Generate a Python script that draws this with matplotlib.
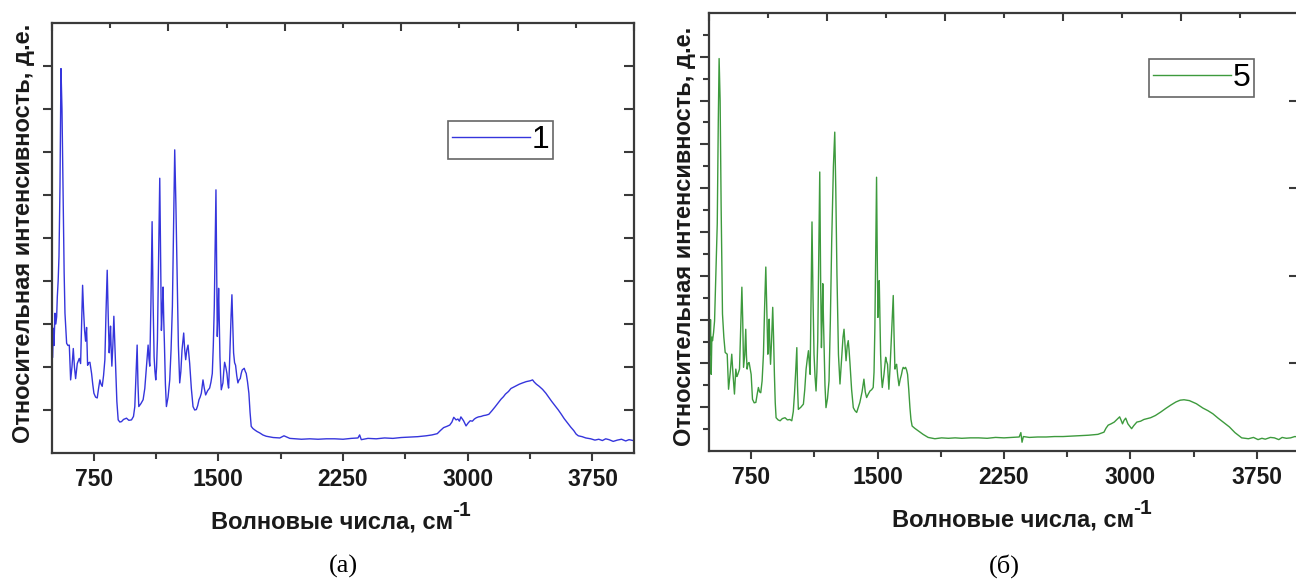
import matplotlib
matplotlib.use("Agg")
import matplotlib.pyplot as plt
from matplotlib.ticker import NullFormatter

plt.rcParams["font.family"] = ["Liberation Sans", "DejaVu Sans"]

# spectrum 1 (panel а), relative units
wn_a = [504, 508, 512, 518, 523, 528, 532, 537, 542, 548, 554, 560, 568, 573, 578, 588, 596, 604, 612, 620,
        628, 635, 642, 652, 664, 672, 678, 684, 690, 696, 702, 708, 714, 721, 728, 738, 745, 752, 762, 772,
        780, 788, 795, 802, 810, 818, 825, 832, 838, 844, 848, 852, 856, 860, 866, 872, 878, 884, 890, 898,
        908, 918, 930, 948, 962, 978, 990, 998, 1005, 1012, 1017, 1022, 1035, 1048, 1058, 1068, 1073, 1078,
        1083, 1088, 1095, 1102, 1108, 1114, 1119, 1124, 1129, 1134, 1141, 1148, 1153, 1158, 1163, 1168,
        1172, 1176, 1182, 1188, 1198, 1208, 1216, 1224, 1231, 1238, 1245, 1252, 1260, 1268, 1275, 1282,
        1287, 1292, 1298, 1304, 1311, 1318, 1323, 1328, 1338, 1348, 1358, 1368, 1376, 1384, 1391, 1398,
        1403, 1408, 1416, 1424, 1436, 1448, 1456, 1464, 1470, 1476, 1481, 1486, 1490, 1494, 1498, 1502,
        1506, 1510, 1514, 1518, 1523, 1528, 1533, 1538, 1545, 1552, 1558, 1562, 1567, 1572, 1577, 1582,
        1587, 1592, 1598, 1604, 1611, 1618, 1625, 1632, 1638, 1644, 1650, 1656, 1662, 1668, 1676, 1684,
        1691, 1698, 1708, 1718, 1733, 1748, 1768, 1788, 1830, 1870, 1895, 1930, 2000, 2050, 2100, 2150,
        2200, 2250, 2300, 2340, 2350, 2360, 2400, 2450, 2500, 2550, 2600, 2650, 2700, 2750, 2785, 2817,
        2835, 2855, 2875, 2892, 2905, 2916, 2930, 2941, 2950, 2959, 2975, 2990, 3003, 3015, 3028, 3040,
        3052, 3065, 3080, 3095, 3110, 3127, 3145, 3164, 3182, 3200, 3215, 3227, 3245, 3260, 3275, 3289,
        3310, 3330, 3352, 3376, 3390, 3400, 3413, 3430, 3450, 3470, 3488, 3505, 3525, 3545, 3563, 3580,
        3600, 3620, 3638, 3652, 3665, 3688, 3710, 3740, 3765, 3788, 3810, 3830, 3850, 3875, 3900, 3925,
        3950, 3970, 3995]
int_a = [0.223, 0.29, 0.25, 0.325, 0.30, 0.317, 0.364, 0.40, 0.457, 0.62, 0.894, 0.80, 0.573, 0.42, 0.325, 0.255, 0.25, 0.251, 0.170, 0.20,
         0.243, 0.20, 0.173, 0.208, 0.220, 0.208, 0.30, 0.390, 0.33, 0.285, 0.26, 0.292, 0.204, 0.21, 0.211, 0.185, 0.16, 0.139, 0.130, 0.128,
         0.15, 0.170, 0.16, 0.155, 0.18, 0.217, 0.33, 0.425, 0.32, 0.233, 0.26, 0.295, 0.24, 0.202, 0.25, 0.318, 0.25, 0.185, 0.12, 0.077,
         0.072, 0.073, 0.078, 0.081, 0.076, 0.077, 0.085, 0.108, 0.18, 0.251, 0.16, 0.108, 0.115, 0.124, 0.15, 0.202, 0.23, 0.251,
         0.22, 0.202, 0.35, 0.538, 0.35, 0.224, 0.19, 0.170, 0.20, 0.264, 0.45, 0.639, 0.45, 0.285, 0.33, 0.386,
         0.31, 0.255, 0.16, 0.108, 0.13, 0.170, 0.24, 0.341, 0.52, 0.705, 0.58, 0.419, 0.25, 0.163, 0.19, 0.240,
         0.26, 0.279, 0.24, 0.217, 0.24, 0.251, 0.23, 0.208, 0.15, 0.108, 0.100, 0.101, 0.11, 0.124, 0.13, 0.139,
         0.155, 0.170, 0.15, 0.135, 0.145, 0.151, 0.165, 0.185, 0.25, 0.341, 0.47, 0.612, 0.45, 0.271, 0.32, 0.383,
         0.30, 0.224, 0.18, 0.147, 0.155, 0.163, 0.19, 0.211, 0.20, 0.185, 0.16, 0.151, 0.20, 0.264, 0.32, 0.368,
         0.30, 0.233, 0.21, 0.204, 0.18, 0.163, 0.17, 0.173, 0.185, 0.193, 0.195, 0.197, 0.19, 0.185, 0.165, 0.139,
         0.095, 0.062, 0.057, 0.054, 0.050, 0.047, 0.042, 0.039, 0.036, 0.035, 0.040, 0.034, 0.032, 0.033, 0.032, 0.033,
         0.033, 0.032, 0.034, 0.035, 0.042, 0.031, 0.034, 0.033, 0.035, 0.034, 0.036, 0.037, 0.038, 0.040, 0.042, 0.045,
         0.052, 0.059, 0.062, 0.065, 0.072, 0.083, 0.077, 0.079, 0.074, 0.084, 0.075, 0.063, 0.070, 0.075, 0.074, 0.079,
         0.082, 0.084, 0.085, 0.087, 0.088, 0.090, 0.098, 0.107, 0.116, 0.125, 0.131, 0.137, 0.143, 0.150, 0.153, 0.156,
         0.160, 0.163, 0.166, 0.168, 0.170, 0.165, 0.160, 0.155, 0.148, 0.139, 0.129, 0.120, 0.110, 0.100, 0.090, 0.080,
         0.070, 0.060, 0.052, 0.044, 0.040, 0.038, 0.035, 0.033, 0.030, 0.032, 0.029, 0.033, 0.031, 0.027, 0.030, 0.032,
         0.028, 0.031, 0.029]

# spectrum 5 (panel б)
wn_b = [501, 505, 509, 513, 517, 521, 527, 533, 541, 549, 555, 560, 566, 572, 580, 588, 596, 608, 616, 626,
        635, 643, 651, 659, 665, 671, 681, 688, 695, 700, 705, 712, 718, 722, 726, 732, 738, 750, 758, 768,
        778, 786, 793, 800, 807, 815, 823, 830, 837, 843, 849, 853, 857, 861, 865, 871, 878, 883, 888, 893,
        898, 910, 922, 935, 951, 965, 980, 991, 1000, 1007, 1014, 1021, 1025, 1030, 1045, 1060, 1068, 1076,
        1083, 1090, 1095, 1100, 1105, 1111, 1117, 1123, 1129, 1135, 1140, 1145, 1151, 1157, 1162, 1167,
        1171, 1175, 1179, 1183, 1188, 1194, 1203, 1212, 1220, 1228, 1238, 1246, 1252, 1259, 1268, 1277,
        1283, 1289, 1295, 1301, 1307, 1313, 1320, 1326, 1331, 1336, 1346, 1356, 1366, 1376, 1386, 1395,
        1408, 1419, 1427, 1435, 1445, 1455, 1465, 1474, 1479, 1484, 1489, 1494, 1498, 1502, 1506, 1510,
        1514, 1518, 1523, 1528, 1533, 1538, 1543, 1548, 1553, 1559, 1563, 1567, 1574, 1581, 1587, 1593,
        1598, 1603, 1608, 1613, 1620, 1627, 1635, 1642, 1647, 1652, 1659, 1666, 1672, 1678, 1685, 1692,
        1698, 1705, 1720, 1741, 1770, 1800, 1840, 1880, 1920, 1960, 2000, 2050, 2100, 2150, 2200, 2250,
        2300, 2340, 2350, 2357, 2365, 2400, 2450, 2500, 2550, 2600, 2650, 2700, 2750, 2807, 2843, 2855,
        2868, 2885, 2904, 2920, 2936, 2945, 2953, 2962, 2972, 2985, 3007, 3020, 3038, 3060, 3080, 3099,
        3120, 3148, 3180, 3209, 3240, 3270, 3295, 3318, 3350, 3391, 3430, 3460, 3489, 3520, 3550, 3587,
        3620, 3660, 3700, 3730, 3757, 3780, 3800, 3830, 3854, 3880, 3900, 3925, 3950, 3975, 3998]
int_b = [0.267, 0.22, 0.30, 0.175, 0.26, 0.252, 0.27, 0.297, 0.404, 0.519, 0.75, 0.896, 0.80, 0.557, 0.313, 0.26, 0.225, 0.221, 0.141, 0.179,
         0.221, 0.172, 0.130, 0.187, 0.17, 0.175, 0.187, 0.28, 0.374, 0.30, 0.191, 0.22, 0.278, 0.22, 0.187, 0.20, 0.202, 0.175, 0.118, 0.110,
         0.111, 0.13, 0.145, 0.135, 0.133, 0.16, 0.221, 0.33, 0.420, 0.32, 0.221, 0.27, 0.301, 0.24, 0.198, 0.25, 0.328, 0.26, 0.175, 0.11,
         0.076, 0.071, 0.069, 0.074, 0.076, 0.071, 0.072, 0.069, 0.09, 0.130, 0.18, 0.236, 0.15, 0.095, 0.100, 0.107, 0.14, 0.187,
         0.21, 0.229, 0.20, 0.175, 0.33, 0.523, 0.35, 0.221, 0.17, 0.137, 0.18, 0.252, 0.45, 0.637, 0.40, 0.236,
         0.30, 0.382, 0.30, 0.236, 0.15, 0.099, 0.12, 0.160, 0.30, 0.481, 0.65, 0.728, 0.60, 0.404, 0.22, 0.153,
         0.19, 0.225, 0.26, 0.278, 0.24, 0.206, 0.24, 0.252, 0.23, 0.202, 0.14, 0.099, 0.092, 0.088, 0.10, 0.111,
         0.135, 0.164, 0.135, 0.122, 0.13, 0.137, 0.140, 0.145, 0.18, 0.282, 0.45, 0.625, 0.45, 0.305, 0.34, 0.389,
         0.30, 0.221, 0.17, 0.145, 0.16, 0.175, 0.195, 0.214, 0.205, 0.198, 0.17, 0.141, 0.19, 0.252, 0.30, 0.355,
         0.26, 0.187, 0.195, 0.198, 0.17, 0.149, 0.165, 0.175, 0.185, 0.191, 0.188, 0.191, 0.185, 0.175, 0.14, 0.099,
         0.072, 0.057, 0.052, 0.046, 0.038, 0.031, 0.028, 0.030, 0.029, 0.030, 0.029, 0.030, 0.030, 0.029, 0.031, 0.030,
         0.031, 0.032, 0.042, 0.020, 0.033, 0.031, 0.032, 0.032, 0.033, 0.033, 0.034, 0.035, 0.036, 0.038, 0.043, 0.052,
         0.059, 0.062, 0.066, 0.072, 0.078, 0.070, 0.062, 0.070, 0.075, 0.062, 0.051, 0.058, 0.066, 0.068, 0.072, 0.074,
         0.076, 0.081, 0.089, 0.097, 0.105, 0.112, 0.116, 0.117, 0.115, 0.108, 0.098, 0.092, 0.085, 0.075, 0.066, 0.055,
         0.042, 0.030, 0.028, 0.031, 0.026, 0.029, 0.027, 0.031, 0.030, 0.026, 0.031, 0.029, 0.030, 0.033, 0.032]

SPINE = "#3a3a3a"
TXT = "#1a1a1a"
W, H = 1296, 582

fig = plt.figure(figsize=(12.96, 5.82), dpi=100)
fig.patch.set_facecolor("white")


def px_axes(x0, y0, x1, y1):
    return fig.add_axes([x0 / W, 1 - y1 / H, (x1 - x0) / W, (y1 - y0) / H])


def style(ax, yl_major, yl_minor, yr_major):
    ax.set_xlim(500, 4000)
    ax.set_ylim(0, 1)
    for s in ax.spines.values():
        s.set_color(SPINE)
        s.set_linewidth(1.6)
    ax.set_xticks([750, 1500, 2250, 3000, 3750])
    ax.set_xticks([1125, 1875, 2625, 3375], minor=True)
    ax.set_xticklabels(["750", "1500", "2250", "3000", "3750"], fontweight="bold")
    ax.tick_params(axis="x", which="major", direction="out", length=6, width=1.5,
                   color=SPINE, labelsize=16.5, labelcolor=TXT, pad=5)
    ax.tick_params(axis="x", which="minor", direction="out", length=4, width=1.5, color=SPINE)
    ax.set_yticks(yl_major)
    ax.set_yticks(yl_minor, minor=True)
    ax.yaxis.set_major_formatter(NullFormatter())
    ax.tick_params(axis="y", which="major", direction="out", length=6.5, width=1.5, color=SPINE)
    ax.tick_params(axis="y", which="minor", direction="out", length=4.5, width=1.5, color=SPINE)

    top = ax.secondary_xaxis("top")
    top.set_xticks([500, 1200, 1900, 2600, 3300, 4000])
    top.set_xticks([850, 1550, 2250, 2950, 3650], minor=True)
    top.xaxis.set_major_formatter(NullFormatter())
    top.tick_params(which="major", direction="in", length=6, width=1.5, color=SPINE)
    top.tick_params(which="minor", direction="in", length=3.5, width=1.5, color=SPINE)
    top.spines["top"].set_visible(False)

    right = ax.secondary_yaxis("right")
    right.set_yticks(yr_major)
    right.yaxis.set_major_formatter(NullFormatter())
    right.tick_params(which="major", direction="in", length=7, width=1.5, color=SPINE)
    right.spines["right"].set_visible(False)


def add_legend(ax, x_px, y_px, x0, y1, w, h):
    leg = ax.legend(loc="upper left", bbox_to_anchor=((x_px - x0) / w, (y1 - y_px) / h),
                    fontsize=23, handlelength=2.45, handletextpad=0.05, borderpad=0.12,
                    borderaxespad=0, fancybox=False, framealpha=1)
    leg.get_frame().set_edgecolor("#666666")
    leg.get_frame().set_linewidth(1.2)


# panel а
ax_a = px_axes(52, 23, 634, 453)
ax_a.plot(wn_a, int_a, color="#3535dc", lw=1.0, label="1")
style(ax_a, [0.1 * i for i in range(1, 10)], [], [0.1 * i for i in range(1, 10)])
add_legend(ax_a, 448, 121, 52, 453, 582, 430)

# panel б
ax_b = px_axes(709, 13, 1299, 451)
ax_b.plot(wn_b, int_b, color="#3d9a3d", lw=1.0, label="5")
style(ax_b, [0.1 * i for i in range(1, 10)], [0.05 + 0.1 * i for i in range(0, 10)],
      [0.2, 0.4, 0.6, 0.8])
add_legend(ax_b, 1149, 59, 709, 451, 590, 438)

ylab = "Относительная интенсивность, д.е."
fig.text(24 / W, 1 - 233 / H, ylab, rotation=90, ha="center", va="center",
         fontsize=17, fontweight="bold", color=TXT)
fig.text(684 / W, 1 - 236 / H, ylab, rotation=90, ha="center", va="center",
         fontsize=17, fontweight="bold", color=TXT)

# x label with a full-size raised "-1"
renderer = fig.canvas.get_renderer()
for xc, yb in [(341, 528), (1022, 526)]:
    main = fig.text(0, 1 - yb / H, "Волновые числа, см", ha="left", va="baseline",
                    fontsize=17, fontweight="bold", color=TXT)
    sup = fig.text(0, 1 - (yb - 12) / H, "-1", ha="left", va="baseline",
                   fontsize=15, fontweight="bold", color=TXT)
    wm = main.get_window_extent(renderer).width
    ws = sup.get_window_extent(renderer).width
    x0 = xc - (wm + ws) / 2
    main.set_x(x0 / W)
    sup.set_x((x0 + wm - 1) / W)

fig.text(343 / W, 1 - 566 / H, "(а)", ha="center", va="center",
         fontsize=19, family="Liberation Serif", color="black")
fig.text(1004 / W, 1 - 566 / H, "(б)", ha="center", va="center",
         fontsize=19, family="Liberation Serif", color="black")

fig.savefig("out.png", dpi=100)
